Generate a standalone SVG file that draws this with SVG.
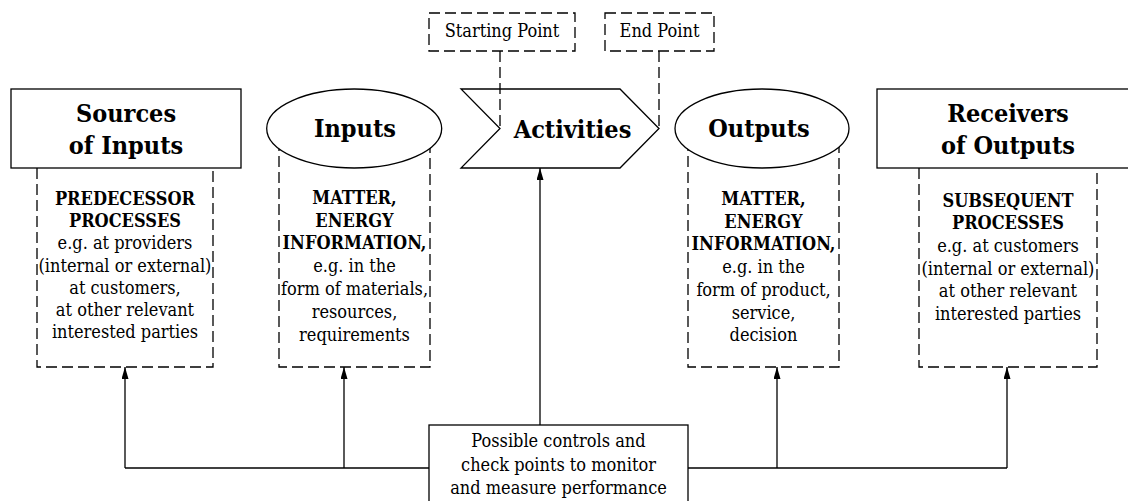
<svg xmlns="http://www.w3.org/2000/svg" width="1128" height="501" viewBox="0 0 1128 501">
<defs>
<marker id="arr" markerUnits="userSpaceOnUse" markerWidth="12" markerHeight="7" refX="12" refY="3.5" orient="auto"><path d="M0,0 L12,3.5 L0,7 Z" fill="#000"/></marker>
<style>
text{font-family:'DejaVu Serif Condensed','DejaVu Serif',serif;font-stretch:condensed;fill:#000;text-anchor:middle}
.t{font-size:25px;font-weight:bold}
.b{font-size:18px}
.bb{font-weight:bold}
.solid{fill:#fff;stroke:#000;stroke-width:1.3}
.dash{fill:none;stroke:#000;stroke-width:1.3;stroke-dasharray:11 5}
.dbox{fill:#fff;stroke:#000;stroke-width:1.3;stroke-dasharray:11 5}
.conn{fill:none;stroke:#000;stroke-width:1.3}
</style>
</defs>
<rect width="1128" height="501" fill="#fff"/>

<g id="sources">
<path class="dash" d="M37,168 V367 H213 V168"/>
<rect class="solid" x="11" y="89" width="230" height="79"/>
<text class="t" x="126" y="122">Sources</text>
<text class="t" x="126" y="153.5">of Inputs</text>
<text class="b" x="125"><tspan class="bb" x="125" y="205">PREDECESSOR</tspan><tspan class="bb" x="125" y="227">PROCESSES</tspan><tspan x="125" y="249">e.g. at providers</tspan><tspan x="125" y="271.5">(internal or external)</tspan><tspan x="125" y="293.5">at customers,</tspan><tspan x="125" y="315.5">at other relevant</tspan><tspan x="125" y="338">interested parties</tspan></text>
</g>

<g id="inputs">
<path class="dash" d="M279,140 V367 H430 V140"/>
<ellipse class="solid" cx="354.2" cy="128.5" rx="87.5" ry="39.5"/>
<text class="t" x="355" y="136.5">Inputs</text>
<text class="b"><tspan class="bb" x="354.5" y="204">MATTER,</tspan><tspan class="bb" x="354.5" y="226.5">ENERGY</tspan><tspan class="bb" x="354.5" y="249">INFORMATION,</tspan><tspan x="354.5" y="272">e.g. in the</tspan><tspan x="354.5" y="295">form of materials,</tspan><tspan x="354.5" y="318">resources,</tspan><tspan x="354.5" y="341">requirements</tspan></text>
</g>

<g id="activities">
<polygon class="solid" points="461,89 620,89 659,128.5 620,168 461,168 500,128.5"/>
<text class="t" x="572.5" y="138">Activities</text>
</g>

<g id="starting-point">
<rect class="dbox" x="429" y="13" width="146" height="38"/>
<text class="b" x="502" y="37">Starting Point</text>
</g>

<g id="end-point">
<rect class="dbox" x="605" y="13" width="109" height="38"/>
<text class="b" x="659.5" y="37">End Point</text>
</g>

<g id="outputs">
<path class="dash" d="M688,140 V367 H839 V140"/>
<ellipse class="solid" cx="762" cy="128.5" rx="87" ry="39.5"/>
<text class="t" x="759" y="136.5">Outputs</text>
<text class="b"><tspan class="bb" x="763.5" y="205">MATTER,</tspan><tspan class="bb" x="763.5" y="227.5">ENERGY</tspan><tspan class="bb" x="763.5" y="250">INFORMATION,</tspan><tspan x="763.5" y="273">e.g. in the</tspan><tspan x="763.5" y="296">form of product,</tspan><tspan x="763.5" y="318.5">service,</tspan><tspan x="763.5" y="341">decision</tspan></text>
</g>

<g id="receivers">
<path class="dash" d="M919,168 V367 H1097 V168"/>
<rect class="solid" x="877" y="89" width="262" height="79"/>
<text class="t" x="1008" y="122">Receivers</text>
<text class="t" x="1008" y="153.5">of Outputs</text>
<text class="b"><tspan class="bb" x="1008" y="207">SUBSEQUENT</tspan><tspan class="bb" x="1008" y="229">PROCESSES</tspan><tspan x="1008" y="252">e.g. at customers</tspan><tspan x="1008" y="274.5">(internal or external)</tspan><tspan x="1008" y="297">at other relevant</tspan><tspan x="1008" y="319.5">interested parties</tspan></text>
</g>

<g id="connectors">
<path class="conn" d="M125,468 H1007"/>
<path class="conn" d="M125,468 V367" marker-end="url(#arr)"/>
<path class="conn" d="M344,468 V367" marker-end="url(#arr)"/>
<path class="conn" d="M777,468 V367" marker-end="url(#arr)"/>
<path class="conn" d="M1007,468 V367" marker-end="url(#arr)"/>
<path class="conn" d="M540,425 V168" marker-end="url(#arr)"/>
<path class="dash" d="M500,51 V128.5"/>
<path class="dash" d="M659,51 V128.5"/>
</g>

<g id="controls">
<rect class="solid" x="429" y="425" width="259" height="90"/>
<text class="b"><tspan x="558.5" y="447">Possible controls and</tspan><tspan x="558.5" y="470.5">check points to monitor</tspan><tspan x="558.5" y="494">and measure performance</tspan></text>
</g>
</svg>
